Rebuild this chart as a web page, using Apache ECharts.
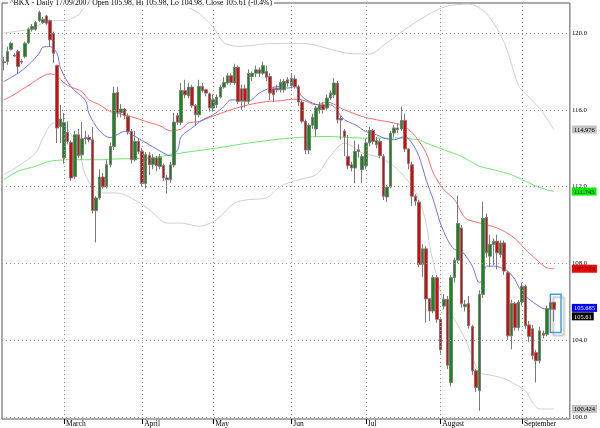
<!DOCTYPE html>
<html><head><meta charset="utf-8">
<script src="https://cdn.jsdelivr.net/npm/echarts@6.0.0/dist/echarts.min.js"></script>
<style>html,body{margin:0;padding:0;background:#fff}#c{width:600px;height:428px}</style>
</head><body><div id="c"></div>
<script>
// ---- data ----
const opens  = [118.5,118.51,119.15,118.84,119.03,118.52,118.77,119.5,120.19,120.19,120.64,120.54,120.88,120.64,119.98,
 118.3,115.13,113.5,114.82,114.3,112.52,114.7,113.66,114.55,114.56,114.44,110.75,111.41,112.5,111.98,113.14,114.09,116.9,115.86,116.04,115.65,114.87,113.4,114.35,113.83,112.16,113.63,113.14,113.49,113.05,113.1,112.45,112.36,113.13,115.7,
 115.34,117.0,116.73,117.18,116.21,115.74,117.21,117.04,116.83,116.09,116.26,116.66,117.18,117.39,117.77,117.39,118.22,117.1,117.1,116.43,117.73,117.9,118.08,117.9,117.99,117.73,117.1,117.12,117.04,117.04,117.56,117.25,
 117.6,117.2,116.4,115.4,113.9,115.2,115.0,116.0,116.26,116.09,116.61,116.78,117.39,115.55,114.9,113.57,113.14,112.97,113.83,112.88,113.09,114.27,114.93,114.18,114.35,113.57,111.46,111.98,114.79,115.05,115.0,115.45,113.96,113.14,111.5,111.19,107.95,108.76,106.16,105.52,107.26,105.09,105.78,106.13,101.8,107.26,108.17,109.85,105.75,105.92,104.71,102.41,101.37,106.39,110.4,108.38,108.99,109.16,108.47,109.07,107.52,104.23,105.92,104.66,105.99,106.82,104.8,104.6,103.36,102.93,104.36,104.31,105.61,105.98];
const highs  = [118.75,119.29,119.55,118.94,119.12,118.63,119.55,120.29,120.47,120.64,121.16,120.85,120.94,120.71,120.07,
 118.35,116.26,115.83,115.39,114.4,114.9,115.0,115.36,114.9,114.7,115.1,111.5,112.9,112.7,113.4,114.3,117.2,117.2,116.3,116.1,115.8,115.0,114.9,114.5,114.0,113.8,113.8,113.7,113.6,113.7,113.2,112.6,113.3,115.83,115.85,
 117.39,117.56,117.4,117.3,116.3,117.56,117.4,117.1,116.9,116.8,116.8,117.3,117.7,117.9,117.9,118.4,118.3,117.3,117.3,118.1,118.0,118.3,118.2,118.5,118.3,117.9,117.2,117.3,117.6,117.6,117.7,117.9,
 117.8,117.3,116.5,115.5,115.3,115.8,116.2,116.4,116.4,116.8,117.0,117.65,117.5,115.7,115.0,114.7,113.3,114.4,114.2,113.7,114.5,115.1,115.0,114.6,114.5,113.7,112.1,114.9,115.2,115.3,116.17,115.8,114.0,113.3,111.6,111.3,109.0,108.9,106.2,107.4,107.4,105.2,106.4,106.3,107.4,108.3,111.53,110.0,106.1,106.3,104.8,102.5,106.6,111.2,110.6,109.5,109.3,109.5,109.2,109.2,107.6,106.1,106.0,106.1,107.0,106.9,105.0,104.8,103.5,104.7,104.5,105.8,106.2,105.98];
const lows   = [118.05,118.34,119.08,118.74,117.87,118.39,118.68,119.43,120.07,120.12,120.57,120.47,120.42,119.29,118.42,
 114.27,114.27,113.2,114.2,112.3,112.4,113.5,113.4,114.2,114.3,110.6,109.09,111.3,111.9,111.9,113.0,113.9,115.6,115.6,115.5,114.7,113.2,113.3,113.7,112.0,111.9,112.6,112.9,112.8,112.9,112.3,111.63,112.2,113.0,115.2,
 115.2,116.6,116.6,116.1,115.17,115.6,116.9,116.7,115.91,115.9,116.1,116.6,117.1,117.3,117.3,117.3,116.3,116.0,116.1,116.3,117.5,117.7,117.7,117.8,117.5,116.5,116.4,116.9,116.9,116.9,117.2,117.1,
 117.1,116.2,115.3,113.7,113.7,115.0,114.6,115.8,115.8,116.0,116.5,116.6,115.3,114.44,113.6,112.9,112.8,112.19,113.5,112.19,112.9,114.1,114.2,114.0,113.5,111.3,111.2,111.9,114.6,114.8,114.9,113.8,112.9,111.0,111.0,107.8,107.3,104.92,105.0,105.4,104.9,103.3,105.6,102.5,101.6,107.0,108.0,105.7,105.5,104.6,102.2,101.3,100.33,106.2,108.3,107.8,107.9,107.7,108.3,107.4,104.0,103.53,104.5,104.5,105.8,104.6,103.9,103.0,101.8,102.8,104.1,104.2,104.38,104.98];
const closes = [118.45,119.03,119.46,118.8,118.25,118.48,119.46,120.19,120.33,120.54,121.06,120.71,120.5,119.64,118.94,
 115.05,115.52,115.34,114.35,112.45,114.7,113.61,114.49,114.5,114.44,110.75,111.41,112.5,111.98,113.14,114.09,116.87,115.86,116.04,115.69,114.87,113.4,114.35,113.83,112.16,113.66,113.14,113.49,113.09,113.52,112.45,112.36,113.13,115.36,115.35,
 117.0,116.78,117.18,116.21,115.74,117.21,117.0,116.87,116.09,116.52,116.66,117.18,117.42,117.77,117.42,118.22,116.43,116.45,116.45,117.9,117.9,118.08,117.9,118.3,117.7,116.87,116.78,117.04,117.42,117.47,117.39,117.65,
 117.2,116.4,115.4,113.9,115.2,115.6,116.1,116.26,116.0,116.61,116.87,117.39,115.48,115.47,114.6,113.09,112.97,113.83,113.92,113.57,114.27,114.93,114.35,114.41,113.61,111.5,111.98,114.79,115.05,114.96,115.45,113.96,113.2,111.5,111.24,107.95,108.76,106.15,105.52,107.26,105.09,103.5,106.13,102.7,107.26,108.17,110.08,105.9,105.87,104.75,102.41,101.54,106.39,110.35,108.55,109.0,109.16,108.55,109.07,107.6,104.23,105.92,104.66,105.99,106.82,104.75,104.2,103.2,102.93,104.49,104.26,105.65,105.96,105.61];

// indicator lines, sampled as [candle index, value]
const blueLine  = [[0,117.47],[4,117.9],[7,118.34],[10,118.94],[11,119.26],[13,119.29],[15,118.94],[16,118.16],[19,117.18],[23,116.5],[24,115.8],[27,114.9],[30,114.55],[34,114.87],[37,114.61],[41,114.18],[45,113.75],[47,113.6],[49,113.92],[50,114.61],[53,115.05],[56,115.48],[59,115.74],[62,116.17],[64,116.52],[69,116.47],[72,116.87],[75,117.13],[78,117.21],[80,117.13],[82,117.21],[84,116.69],[87,116.35],[90,116.21],[92,116.26],[96,115.48],[99,115.22],[102,114.87],[105,114.7],[107,114.53],[110,114.44],[113,114.61],[115,114.27],[117,113.57],[119,112.36],[121,111.32],[123,110.11],[125,109.25],[127,108.73],[129,108.64],[132,107.86],[134,107.0],[135,107.17],[136,107.86],[138,107.86],[140,107.78],[142,107.6],[144,107.17],[145,106.8],[147,106.3],[150,105.87],[153,105.61],[155,105.685]];
const redLine   = [[0,116.52],[2,116.69],[5,117.04],[8,117.39],[10,117.65],[13,117.87],[15,117.77],[17,117.39],[19,117.18],[22,116.95],[24,116.52],[27,116.26],[30,115.91],[34,115.74],[36,115.65],[40,115.39],[44,115.17],[47,114.9],[50,115.0],[52,115.31],[55,115.39],[60,115.74],[64,116.0],[69,116.26],[74,116.43],[78,116.47],[81,116.55],[84,116.52],[88,116.26],[91,116.4],[96,116.0],[101,115.65],[105,115.48],[110,115.31],[113,115.13],[116,114.61],[119,113.75],[121,112.71],[124,111.84],[127,111.32],[130,110.37],[134,110.11],[136,110.02],[140,109.77],[144,109.3],[147,108.73],[150,108.21],[153,107.77],[155,107.724]];
const greenLine = [[0,112.36],[4,112.8],[9,113.06],[12,113.27],[14,113.35],[19,113.4],[27,113.4],[32,113.44],[41,113.49],[50,113.75],[60,114.01],[69,114.27],[78,114.48],[83,114.56],[91,114.61],[101,114.53],[110,114.53],[117,114.44],[119,114.27],[124,113.92],[129,113.57],[134,113.06],[138,112.88],[143,112.62],[147,112.28],[150,112.02],[153,111.84],[155,111.743]];
const upperBand = [[0,120.0],[3,120.07],[7,120.19],[10,120.42],[13,120.64],[17,120.64],[21,120.94],[23,121.37],[27,121.54],[44,121.57],[50,121.45],[55,121.02],[59,120.3],[62,119.5],[66,119.3],[74,119.43],[80,119.46],[86,119.43],[91,119.2],[97,118.94],[103,118.9],[108,119.5],[114,120.3],[120,121.0],[125,121.4],[131,121.5],[136,121.0],[141,119.5],[145,117.27],[147,116.84],[151,116.06],[155,114.976]];
const lowerBand = [[0,112.62],[4,113.06],[9,113.75],[11,114.53],[14,115.31],[17,115.2],[19,114.7],[21,114.1],[23,112.6],[27,111.67],[32,111.67],[36,111.4],[41,110.8],[46,110.1],[50,110.1],[55,109.94],[60,110.29],[65,111.15],[69,111.32],[74,111.41],[78,112.02],[83,112.36],[88,112.62],[92,113.58],[96,114.27],[101,113.75],[105,113.57],[110,113.06],[115,112.02],[117,111.32],[119,110.11],[120,108.9],[122,107.34],[124,105.96],[127,105.09],[130,104.05],[133,102.67],[134,102.32],[138,102.15],[141,102.01],[144,101.72],[147,101.37],[149,100.76],[151,100.42],[155,100.424]];

const yTickValues = [100, 104, 108, 112, 116, 120];
const lastValues  = [114.976, 111.743, 107.724, 105.685, 105.61, 100.424];
const monthNames  = ['March', 'April', 'May', 'Jun', 'Jul', 'August', 'September'];
const titleText   = '^BKX - Daily 17/09/2007 Open 105.98, Hi 105.98, Lo 104.98, Close 105.61 (-0.4%)';
const holidays    = ['2007-02-19', '2007-04-06', '2007-05-28', '2007-07-04', '2007-09-03'];
const highlightBox = {from: 154, to: 157, top: 106.4, bottom: 104.4};

// ---- trading-day categories (plus 4 empty slots at the right) ----
const dates = [];
for (let t = Date.UTC(2007, 1, 5); dates.length < opens.length + 4; t += 86400000) {
  const d = new Date(t), wd = d.getUTCDay(), s = d.toISOString().slice(0, 10);
  if (wd === 0 || wd === 6 || holidays.includes(s)) continue;
  dates.push(s);
}
const monthStarts = [];
for (let i = 1; i < opens.length; i++) if (dates[i].slice(5, 7) !== dates[i - 1].slice(5, 7)) monthStarts.push(i);
const isMonthStart = (i) => monthStarts.indexOf(i) >= 0;

const candleData = opens.map((o, i) => [o, closes[i], lows[i], highs[i]]);

const SERIF = '"Liberation Serif", "DejaVu Serif", serif';
const labelRich = {
  g: {backgroundColor: '#c4c4c4', color: '#000', padding: [1, 2, 0, 2], fontSize: 6.5, fontFamily: SERIF},
  gr: {backgroundColor: '#00ee00', color: '#000', padding: [1, 2, 0, 2], fontSize: 6.5, fontFamily: SERIF},
  r: {backgroundColor: '#ff0000', color: '#000', padding: [1, 2, 0, 2], fontSize: 6.5, fontFamily: SERIF},
  b: {backgroundColor: '#0000ff', color: '#fff', padding: [1, 2, 0, 2], fontSize: 6.5, fontFamily: SERIF},
  k: {backgroundColor: '#000', color: '#fff', padding: [1, 2, 0, 2], fontSize: 6.5, fontFamily: SERIF, lineHeight: 9},
  sp: {fontSize: 6.5, lineHeight: 14}
};
const labelKeys = ['g', 'gr', 'r', 'b', 'k', 'g'];

const chart = echarts.init(document.getElementById('c'), null, {renderer: 'canvas'});
const lineBase = {type: 'line', showSymbol: false, smooth: 0.3, silent: true, animation: false, z: 1};

chart.setOption({
  animation: false,
  backgroundColor: '#fff',
  title: {
    text: titleText, left: 8, top: -2, padding: [1, 2, 1, 2], backgroundColor: '#fff',
    textStyle: {fontSize: 7.7, fontWeight: 'normal', fontFamily: SERIF, color: '#000'}
  },
  grid: {left: 2, right: 27, top: 3, bottom: 8, show: true, borderColor: '#555', borderWidth: 1, backgroundColor: 'transparent'},
  xAxis: {
    type: 'category', data: dates, boundaryGap: true,
    axisLine: {show: false},
    axisTick: {show: true, interval: (i) => isMonthStart(i), alignWithLabel: true, length: 5, lineStyle: {color: '#000'}},
    axisLabel: {
      interval: (i) => isMonthStart(i), align: 'left', margin: 1, padding: [0, 0, 0, 2],
      fontSize: 7.5, fontFamily: SERIF, color: '#000',
      formatter: (v, i) => monthNames[monthStarts.indexOf(i)] || ''
    },
    splitLine: {show: false}
  },
  yAxis: [{
    type: 'value', position: 'right', min: 99.9, max: 121.56, scale: true,
    axisLine: {show: false}, axisTick: {show: false}, splitLine: {show: false},
    axisLabel: {customValues: yTickValues, margin: 2, fontSize: 6.8, fontFamily: SERIF, color: '#000',
      formatter: (v) => Number(v).toFixed(1)}
  }, {
    type: 'value', position: 'right', min: 99.9, max: 121.56, scale: true,
    axisLine: {show: false}, axisTick: {show: false}, splitLine: {show: false},
    axisLabel: {customValues: lastValues, margin: 2, hideOverlap: false, rich: labelRich,
      formatter: (v) => {
        let k = 0, best = 1e9;
        lastValues.forEach((lv, j) => { const d = Math.abs(lv - v); if (d < best) { best = d; k = j; } });
        const key = labelKeys[k];
        const txt = lastValues[k] === 105.61 ? '105.61' : String(lastValues[k]);
        return key === 'k' ? '{sp| }\n{k|' + txt + '}' : '{' + key + '|' + txt + '}';
      }}
  }],
  series: [
    Object.assign({}, lineBase, {
      name: 'grid', data: [],
      markLine: {
        silent: true, symbol: ['none', 'none'], label: {show: false}, animation: false,
        lineStyle: {type: [1, 3], color: '#999', width: 1},
        data: yTickValues.map(v => ({yAxis: v})).concat(monthStarts.map(i => ({xAxis: i})))
      }
    }),
    Object.assign({}, lineBase, {name: 'upper', data: upperBand, lineStyle: {color: '#cfcfcf', width: 1}}),
    Object.assign({}, lineBase, {name: 'lower', data: lowerBand, lineStyle: {color: '#cfcfcf', width: 1}}),
    Object.assign({}, lineBase, {name: 'green', data: greenLine, lineStyle: {color: '#6fe86f', width: 1}}),
    Object.assign({}, lineBase, {name: 'red', data: redLine, lineStyle: {color: '#ff6a6a', width: 1}}),
    Object.assign({}, lineBase, {name: 'blue', data: blueLine, lineStyle: {color: '#7070f4', width: 1}}),
    {
      type: 'candlestick', name: 'BKX', data: candleData, barWidth: 3, z: 3, animation: false,
      itemStyle: {color: '#0f8f0f', color0: '#f20000', borderColor: '#7a7a7a', borderColor0: '#7a7a7a', borderWidth: 1},
      markArea: {
        silent: true,
        itemStyle: {color: 'rgba(255,255,255,0)', borderColor: '#3f9fe2', borderWidth: 1.5,
          shadowColor: 'rgba(0,0,0,0.3)', shadowBlur: 2, shadowOffsetX: 3, shadowOffsetY: 3},
        data: [[{coord: [highlightBox.from, highlightBox.top]}, {coord: [highlightBox.to, highlightBox.bottom]}]]
      }
    }
  ]
});
</script>
</body></html>
